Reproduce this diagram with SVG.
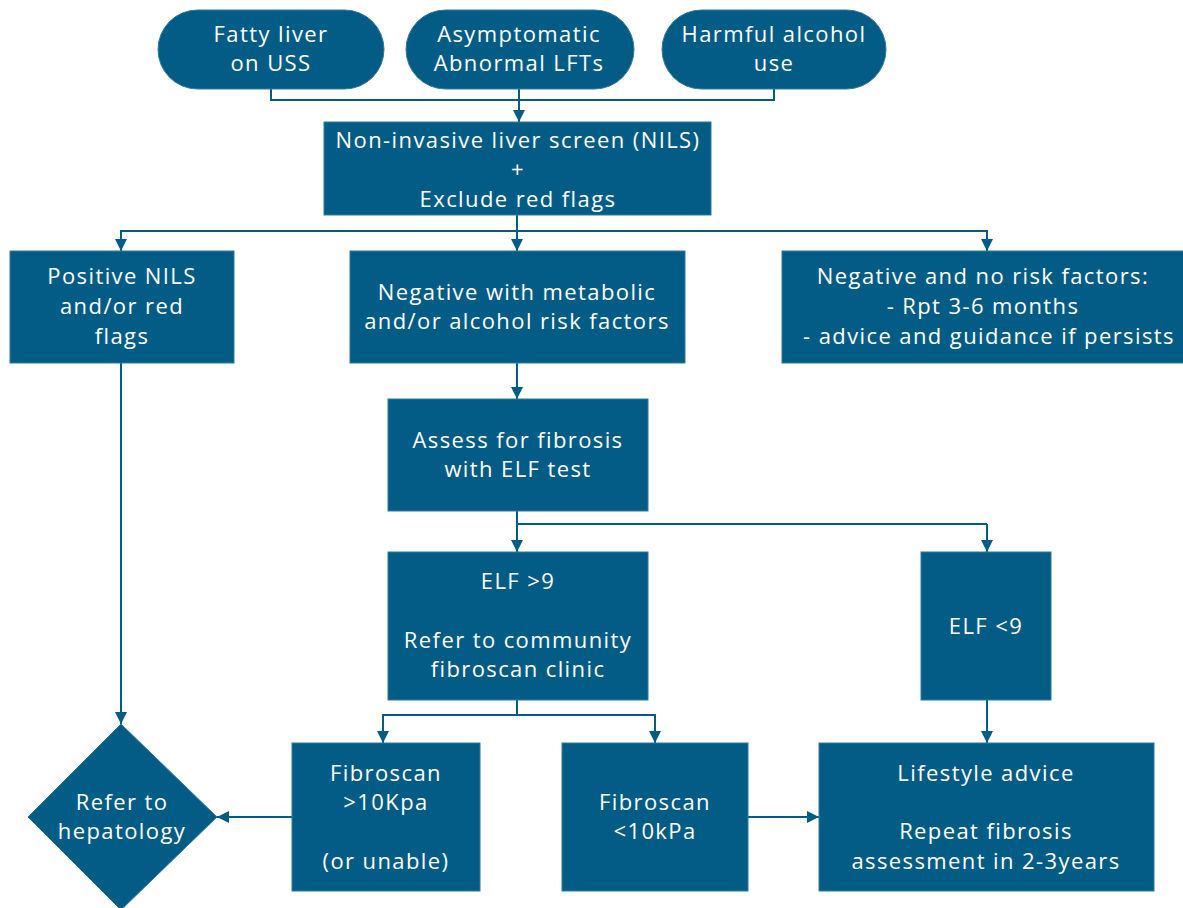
<svg xmlns="http://www.w3.org/2000/svg" width="1183" height="908" viewBox="0 0 1183 908">
  <style>
    .node { fill: #035c85; stroke: #2f7aa0; stroke-width: 1; }
    .lbl { fill: #ffffff; font-family: "Open Sans", "DejaVu Sans", sans-serif; font-size: 22px; text-anchor: middle; dominant-baseline: central; letter-spacing: 1.4px; }
    .wire { fill: none; stroke: #035c85; stroke-width: 2; }
  </style>
  <defs>
    <marker id="arrow" viewBox="0 0 12 12" refX="12" refY="6" markerWidth="12" markerHeight="12" markerUnits="userSpaceOnUse" orient="auto">
      <path d="M0,0 L12,6 L0,12 Z" fill="#035c85"/>
    </marker>
  </defs>
  <rect width="1183" height="908" fill="#ffffff"/>

  <!-- connectors -->
  <g id="connectors">
    <path class="wire" d="M271,89 V100 H774 V89"/>
    <path class="wire" d="M519,89 V122" marker-end="url(#arrow)"/>
    <path class="wire" d="M517,215 V231"/>
    <path class="wire" d="M121,251 V231 H987 V251" />
    <path class="wire" d="M121,231 V251" marker-end="url(#arrow)"/>
    <path class="wire" d="M517,231 V251" marker-end="url(#arrow)"/>
    <path class="wire" d="M987,231 V251" marker-end="url(#arrow)"/>
    <path class="wire" d="M517,363 V399" marker-end="url(#arrow)"/>
    <path class="wire" d="M517,511 V524 H987"/>
    <path class="wire" d="M517,524 V552" marker-end="url(#arrow)"/>
    <path class="wire" d="M987,524 V552" marker-end="url(#arrow)"/>
    <path class="wire" d="M517,700 V715 H383"/>
    <path class="wire" d="M517,715 H655"/>
    <path class="wire" d="M383,714 V743" marker-end="url(#arrow)"/>
    <path class="wire" d="M655,714 V743" marker-end="url(#arrow)"/>
    <path class="wire" d="M987,700 V743" marker-end="url(#arrow)"/>
    <path class="wire" d="M121,363 V724" marker-end="url(#arrow)"/>
    <path class="wire" d="M292,817 H217" marker-end="url(#arrow)"/>
    <path class="wire" d="M748,817 H819" marker-end="url(#arrow)"/>
  </g>

  <g id="fatty-liver">
    <rect class="node" x="158" y="10" width="226" height="79" rx="39.5"/>
    <text class="lbl" x="271" y="33">Fatty liver</text>
    <text class="lbl" x="271" y="62">on USS</text>
  </g>
  <g id="abnormal-lfts">
    <rect class="node" x="406" y="10" width="228" height="79" rx="39.5"/>
    <text class="lbl" x="519" y="33">Asymptomatic</text>
    <text class="lbl" x="519" y="62">Abnormal LFTs</text>
  </g>
  <g id="harmful-alcohol">
    <rect class="node" x="662" y="10" width="224" height="79" rx="39.5"/>
    <text class="lbl" x="774" y="33">Harmful alcohol</text>
    <text class="lbl" x="774" y="62">use</text>
  </g>
  <g id="nils">
    <rect class="node" x="324" y="122" width="387" height="93"/>
    <text class="lbl" x="518" y="139">Non-invasive liver screen (NILS)</text>
    <text class="lbl" x="518" y="168">+</text>
    <text class="lbl" x="518" y="198">Exclude red flags</text>
  </g>
  <g id="positive-nils">
    <rect class="node" x="10" y="251" width="224" height="112"/>
    <text class="lbl" x="122" y="275">Positive NILS</text>
    <text class="lbl" x="122" y="305">and/or red</text>
    <text class="lbl" x="122" y="335">flags</text>
  </g>
  <g id="negative-risk">
    <rect class="node" x="350" y="251" width="335" height="112"/>
    <text class="lbl" x="517" y="291">Negative with metabolic</text>
    <text class="lbl" x="517" y="320">and/or alcohol risk factors</text>
  </g>
  <g id="negative-no-risk">
    <rect class="node" x="782" y="251" width="410" height="112"/>
    <text class="lbl" x="983" y="275">Negative and no risk factors:</text>
    <text class="lbl" x="983" y="305">- Rpt 3-6 months</text>
    <text class="lbl" x="989" y="335">- advice and guidance if persists</text>
  </g>
  <g id="assess-fibrosis">
    <rect class="node" x="388" y="399" width="260" height="112"/>
    <text class="lbl" x="518" y="439">Assess for fibrosis</text>
    <text class="lbl" x="518" y="468">with ELF test</text>
  </g>
  <g id="elf-high">
    <rect class="node" x="388" y="552" width="260" height="148"/>
    <text class="lbl" x="518" y="580">ELF &gt;9</text>
    <text class="lbl" x="518" y="639">Refer to community</text>
    <text class="lbl" x="518" y="668">fibroscan clinic</text>
  </g>
  <g id="elf-low">
    <rect class="node" x="921" y="552" width="130" height="148"/>
    <text class="lbl" x="986" y="625">ELF &lt;9</text>
  </g>
  <g id="fibroscan-high">
    <rect class="node" x="292" y="743" width="188" height="148"/>
    <text class="lbl" x="386" y="772">Fibroscan</text>
    <text class="lbl" x="386" y="801">&gt;10Kpa</text>
    <text class="lbl" x="386" y="860">(or unable)</text>
  </g>
  <g id="fibroscan-low">
    <rect class="node" x="562" y="743" width="186" height="148"/>
    <text class="lbl" x="655" y="801">Fibroscan</text>
    <text class="lbl" x="655" y="830">&lt;10kPa</text>
  </g>
  <g id="lifestyle">
    <rect class="node" x="819" y="743" width="335" height="148"/>
    <text class="lbl" x="986" y="772">Lifestyle advice</text>
    <text class="lbl" x="986" y="830">Repeat fibrosis</text>
    <text class="lbl" x="986" y="860">assessment in 2-3years</text>
  </g>
  <g id="hepatology">
    <polygon class="node" points="121,724 217,817 121,910 28,817"/>
    <text class="lbl" x="122" y="801">Refer to</text>
    <text class="lbl" x="122" y="830">hepatology</text>
  </g>
</svg>
